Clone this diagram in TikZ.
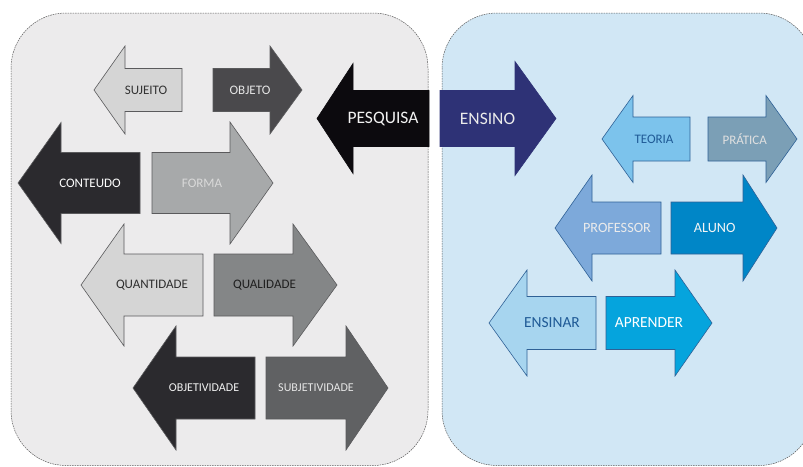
\documentclass[tikz,border=0pt]{standalone}
\usepackage{fontspec}
\setmainfont{Carlito}
\newcommand{\LArr}[8]{% fill, draw, tipx, basex, endx, cy, halfshaft, halfhead
  \filldraw[fill=#1,draw=#2,line width=0.6pt,line join=miter]
    (#3,#6) -- (#4,#6-#8) -- (#4,#6-#7) -- (#5,#6-#7) -- (#5,#6+#7)
    -- (#4,#6+#7) -- (#4,#6+#8) -- cycle;}
\newcommand{\RArr}[8]{% fill, draw, startx, basex, tipx, cy, halfshaft, halfhead
  \filldraw[fill=#1,draw=#2,line width=0.6pt,line join=miter]
    (#5,#6) -- (#4,#6-#8) -- (#4,#6-#7) -- (#3,#6-#7) -- (#3,#6+#7)
    -- (#4,#6+#7) -- (#4,#6+#8) -- cycle;}
\begin{document}
\begin{tikzpicture}[x=1pt,y=-1pt,
  panel/.style={draw=black!65,dashed,dash pattern=on 1.6pt off 0.9pt,line width=0.5pt,rounded corners=55pt},
  lbl/.style={inner sep=0pt,anchor=center,font=\fontsize{13}{14}\selectfont},
  big/.style={lbl,font=\fontsize{17.5}{19}\selectfont},
  small/.style={lbl,font=\fontsize{12}{13}\selectfont},
  mid/.style={lbl,font=\fontsize{14.2}{15}\selectfont},
  large/.style={lbl,font=\fontsize{15.4}{16}\selectfont}]
\definecolor{pgray}{HTML}{ECEBEC}
\definecolor{pblue}{HTML}{D1E7F5}
\definecolor{gA}{HTML}{D5D5D5}
\definecolor{gB}{HTML}{4A494C}
\definecolor{gC}{HTML}{0C0A0E}
\definecolor{nv}{HTML}{2E3276}
\definecolor{gD}{HTML}{2B2A2E}
\definecolor{gE}{HTML}{A7A9AA}
\definecolor{gF}{HTML}{848687}
\definecolor{gG}{HTML}{606163}
\definecolor{bA}{HTML}{7CC3EC}
\definecolor{bB}{HTML}{7B9FB6}
\definecolor{bC}{HTML}{7DA9DA}
\definecolor{bD}{HTML}{0086C7}
\definecolor{bE}{HTML}{A7D5EF}
\definecolor{bF}{HTML}{05A4DD}
\definecolor{bline}{HTML}{2F6196}
\definecolor{glin}{HTML}{5A5A5C}
\definecolor{tdb}{HTML}{1F5A96}
\path[use as bounding box] (0,0) rectangle (803,466);
\clip (0,0) rectangle (803,466);
% panels
\draw[panel,fill=pgray] (11,13) rectangle (428,465.5);
\draw[panel,fill=pblue] (442,13) rectangle (814,465.5);
% left panel arrows
\LArr{gA}{glin}{94}{125}{182}{90}{21.5}{44}
\RArr{gB}{glin}{213}{270}{302}{90}{21.5}{44}
\LArr{gD}{glin}{18}{61}{140}{183}{30.5}{60.5}
\RArr{gE}{glin}{152}{230}{273}{183}{30.5}{61}
\LArr{gA}{glin}{81}{124}{203}{285}{31}{61}
\RArr{gF}{glin}{214}{293}{337}{285}{31}{61}
\LArr{gD}{glin}{133}{176}{255}{388}{31}{62}
\RArr{gG}{glin}{266}{346}{388}{388}{31}{62}
% central arrows
\LArr{gC}{gC}{317}{353}{429}{118.5}{28}{55}
\RArr{nv}{nv}{440}{515}{556}{118.5}{28}{57}
% right panel arrows
\LArr{bA}{bline}{602}{633}{690}{139}{22}{43.5}
\RArr{bB}{bline}{708}{766}{797}{139}{22}{43.5}
\LArr{bC}{bline}{555}{592}{661}{228}{26}{53}
\RArr{bD}{bline}{671}{743}{777}{228}{26}{53}
\LArr{bE}{bline}{489}{527}{596}{323}{26.5}{53}
\RArr{bF}{bline}{606}{675}{712}{323}{26.5}{53}
% labels
\node[lbl,text=black!80] (sujeito) at (146,90) {SUJEITO};
\node[lbl,text=black!10] (objeto) at (250,90) {OBJETO};
\node[big,text=black!5] (pesquisa) at (383,118.5) {PESQUISA};
\node[big,text=black!8] (ensino) at (487.5,118.5) {ENSINO};
\node[lbl,text=white] (conteudo) at (90,183) {CONTEUDO};
\node[lbl,text=black!15] (forma) at (202,183) {FORMA};
\node[lbl,text=black!82] (quantidade) at (152,285) {QUANTIDADE};
\node[lbl,text=black!88] (qualidade) at (264.5,285) {QUALIDADE};
\node[small,text=black!5] (objetividade) at (204,388) {OBJETIVIDADE};
\node[small,text=black!10] (subjetividade) at (316,388) {SUBJETIVIDADE};
\node[lbl,text=tdb] (teoria) at (654,139) {TEORIA};
\node[lbl,text=black!12] (pratica) at (744.7,139) {PRÁTICA};
\node[mid,text=black!8] (professor) at (617,228) {PROFESSOR};
\node[mid,text=black!4] (aluno) at (714.7,228) {ALUNO};
\node[large,text=tdb] (ensinar) at (552,323) {ENSINAR};
\node[large,text=white] (aprender) at (649,323) {APRENDER};
\end{tikzpicture}
\end{document}
